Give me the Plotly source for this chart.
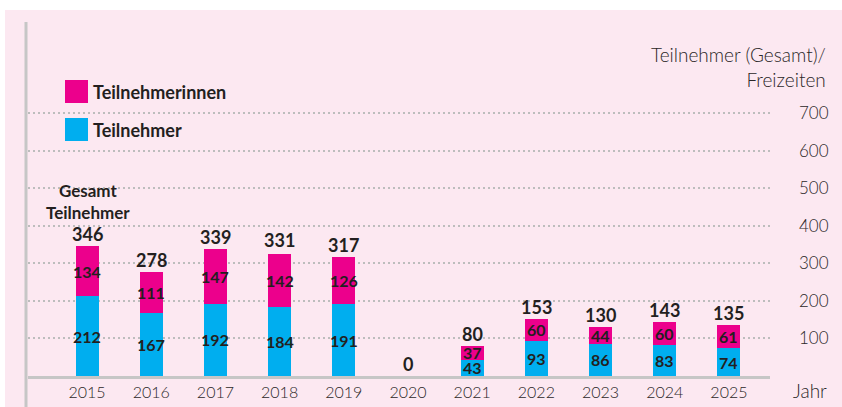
import plotly.graph_objects as go

years = ["2015", "2016", "2017", "2018", "2019", "2020", "2021", "2022", "2023", "2024", "2025"]
teilnehmer = [212, 167, 192, 184, 191, 0, 43, 93, 86, 83, 74]
teilnehmerinnen = [134, 111, 147, 142, 126, 0, 37, 60, 44, 60, 61]
gesamt = [346, 278, 339, 331, 317, 0, 80, 153, 130, 143, 135]
y_ticks = [100, 200, 300, 400, 500, 600, 700]

PINK = "#ec008c"
CYAN = "#00aeef"
BG = "#fce8f1"
DARK = "#231f20"
TXT = "#2b2728"
GREY = "#c6c6c6"
FONT = "Lato"

W, H = 842, 407
L, R, T, B = 28, 72, 22, 31
pw, ph = W - L - R, H - T - B

def px_x(x):
    return (x - L) / pw

def px_y(y):
    return (H - B - y) / ph

fig = go.Figure()
fig.add_trace(go.Bar(x=years, y=teilnehmer, marker=dict(color=CYAN, line=dict(width=0)),
                     name="Teilnehmer", hoverinfo="skip"))
fig.add_trace(go.Bar(x=years, y=teilnehmerinnen, marker=dict(color=PINK, line=dict(width=0)),
                     name="Teilnehmerinnen", hoverinfo="skip"))

seg_font = dict(family=FONT, size=16, color=DARK, weight="bold")
tot_font = dict(family=FONT, size=18, color=DARK, weight="bold")
leg_font = dict(family=FONT, size=18, color=DARK, weight="bold")
reg_font = dict(family=FONT, size=19, color=TXT, weight=300)

ann = []
for i, yr in enumerate(years):
    if teilnehmer[i] > 0:
        ann.append(dict(x=i, y=teilnehmer[i] / 2, text=str(teilnehmer[i]), showarrow=False,
                        font=seg_font, yanchor="middle", borderpad=0))
    if teilnehmerinnen[i] > 0:
        ann.append(dict(x=i, y=teilnehmer[i] + teilnehmerinnen[i] / 2, text=str(teilnehmerinnen[i]),
                        showarrow=False, font=seg_font, yanchor="middle", borderpad=0))
    ann.append(dict(x=i, y=gesamt[i], text=str(gesamt[i]), showarrow=False, yanchor="bottom",
                    font=tot_font, borderpad=0, yshift=0))

ann.append(dict(xref="paper", yref="paper", x=px_x(88), y=px_y(201), text="Gesamt<br>Teilnehmer",
                showarrow=False, xanchor="center", yanchor="middle", align="center",
                font=dict(family=FONT, size=17, color=DARK, weight="bold"), borderpad=0))

# legend
ann.append(dict(xref="paper", yref="paper", x=px_x(91), y=px_y(91.5), text="Teilnehmerinnen",
                xanchor="left", yanchor="middle", showarrow=False, font=leg_font))
ann.append(dict(xref="paper", yref="paper", x=px_x(91), y=px_y(129.5), text="Teilnehmer",
                xanchor="left", yanchor="middle", showarrow=False, font=leg_font))
# axis titles
ann.append(dict(xref="paper", yref="paper", x=px_x(828), y=px_y(66.5),
                text="Teilnehmer (Gesamt)/<br>Freizeiten", xanchor="right", yanchor="middle",
                align="right", showarrow=False, font=reg_font))
ann.append(dict(xref="paper", yref="paper", x=px_x(829), y=px_y(390), text="Jahr",
                xanchor="right", yanchor="middle", showarrow=False, font=reg_font))

shapes = [
    dict(type="rect", xref="paper", yref="paper", x0=px_x(5), x1=px_x(842), y0=px_y(407), y1=px_y(10),
         fillcolor=BG, line=dict(width=0), layer="below"),
    dict(type="line", xref="paper", yref="paper", x0=px_x(26), x1=px_x(26), y0=px_y(407), y1=px_y(22),
         line=dict(color=GREY, width=3)),
    dict(type="rect", xref="paper", yref="paper", x0=px_x(65), x1=px_x(88), y0=px_y(103), y1=px_y(80),
         fillcolor=PINK, line=dict(width=0)),
    dict(type="rect", xref="paper", yref="paper", x0=px_x(65), x1=px_x(88), y0=px_y(141), y1=px_y(118),
         fillcolor=CYAN, line=dict(width=0)),
]

fig.update_layout(
    width=W, height=H, margin=dict(l=L, r=R, t=T, b=B, autoexpand=False),
    barmode="stack", bargap=0.64, showlegend=False,
    paper_bgcolor="white", plot_bgcolor="rgba(0,0,0,0)",
    annotations=ann, shapes=shapes,
    xaxis=dict(type="category", range=[-0.92, 10.64], showgrid=False, zeroline=False,
               showline=True, linecolor=GREY, linewidth=3, ticks="", automargin=False,
               tickfont=dict(family=FONT, size=16, color=TXT, weight=300), fixedrange=True),
    yaxis=dict(range=[0, (376 - 22) / 0.3757], side="right", tickvals=y_ticks,
               showgrid=True, gridcolor="#bdbdbd", gridwidth=2, griddash="2px,3px",
               zeroline=False, showline=False, ticks="", ticklabelstandoff=28, automargin=False,
               tickfont=dict(family=FONT, size=17, color=TXT, weight=300), fixedrange=True),
    font=dict(family=FONT),
)

fig.write_html("out.html", config={"displayModeBar": False},
               post_script="document.body.style.margin='0';document.body.style.overflow='hidden';")
